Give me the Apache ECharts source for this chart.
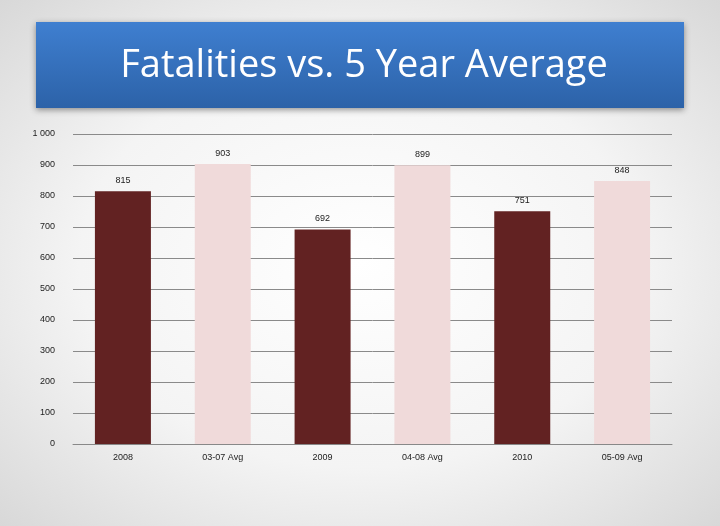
<!DOCTYPE html>
<html><head><meta charset="utf-8">
<script src="https://cdn.jsdelivr.net/npm/echarts@6/dist/echarts.min.js"></script>
<style>
html,body{margin:0;padding:0;}
#c{width:720px;height:526px;background:radial-gradient(ellipse at center,#ffffff 0%,#f4f4f4 55%,#d8d8d8 100%);}
</style></head><body>
<div id="c"></div>
<script>
const categories=['2008','03-07 Avg','2009','04-08 Avg','2010','05-09 Avg'];
const values=[815,903,692,899,751,848];
const colorsList=['#622222','#f0dada','#622222','#f0dada','#622222','#f0dada'];
const yTicks=[0,100,200,300,400,500,600,700,800,900,1000];
const chart=echarts.init(document.getElementById('c'));
chart.setOption({
  backgroundColor:'transparent',
  graphic:[{type:'rect',shape:{x:36,y:22,width:648,height:86},
    style:{fill:new echarts.graphic.LinearGradient(0,0,0,1,[{offset:0,color:'#3f7fd0'},{offset:1,color:'#2c62a8'}]),
    shadowBlur:6,shadowColor:'rgba(0,0,0,0.4)',shadowOffsetY:2}},
    {type:'text',x:364,y:66,style:{text:'Fatalities vs. 5 Year Average',fill:'#ffffff',font:'38px "Open Sans", "Liberation Sans", sans-serif',align:'center',verticalAlign:'middle'}}],
  grid:{left:73,right:48,top:134,bottom:82},
  xAxis:{type:'category',data:categories,
    axisLine:{lineStyle:{color:'#888'}},axisTick:{show:false},
    axisLabel:{color:'#222',fontSize:9,margin:9,fontFamily:'Liberation Sans'}},
  yAxis:{type:'value',min:0,max:1000,interval:100,
    axisLine:{show:false},axisTick:{show:false},
    splitLine:{lineStyle:{color:'#8a8a8a'}},
    axisLabel:{color:'#222',fontSize:9,margin:18,align:'right',fontFamily:'Liberation Sans',
      formatter:v=>v===1000?'1 000':String(v)}},
  series:[{type:'bar',data:values.map((v,i)=>({value:v,itemStyle:{color:colorsList[i]}})),
    barWidth:56,
    label:{show:true,position:'top',distance:6,color:'#222',fontSize:9,fontFamily:'Liberation Sans'}}]
});
</script></body></html>
